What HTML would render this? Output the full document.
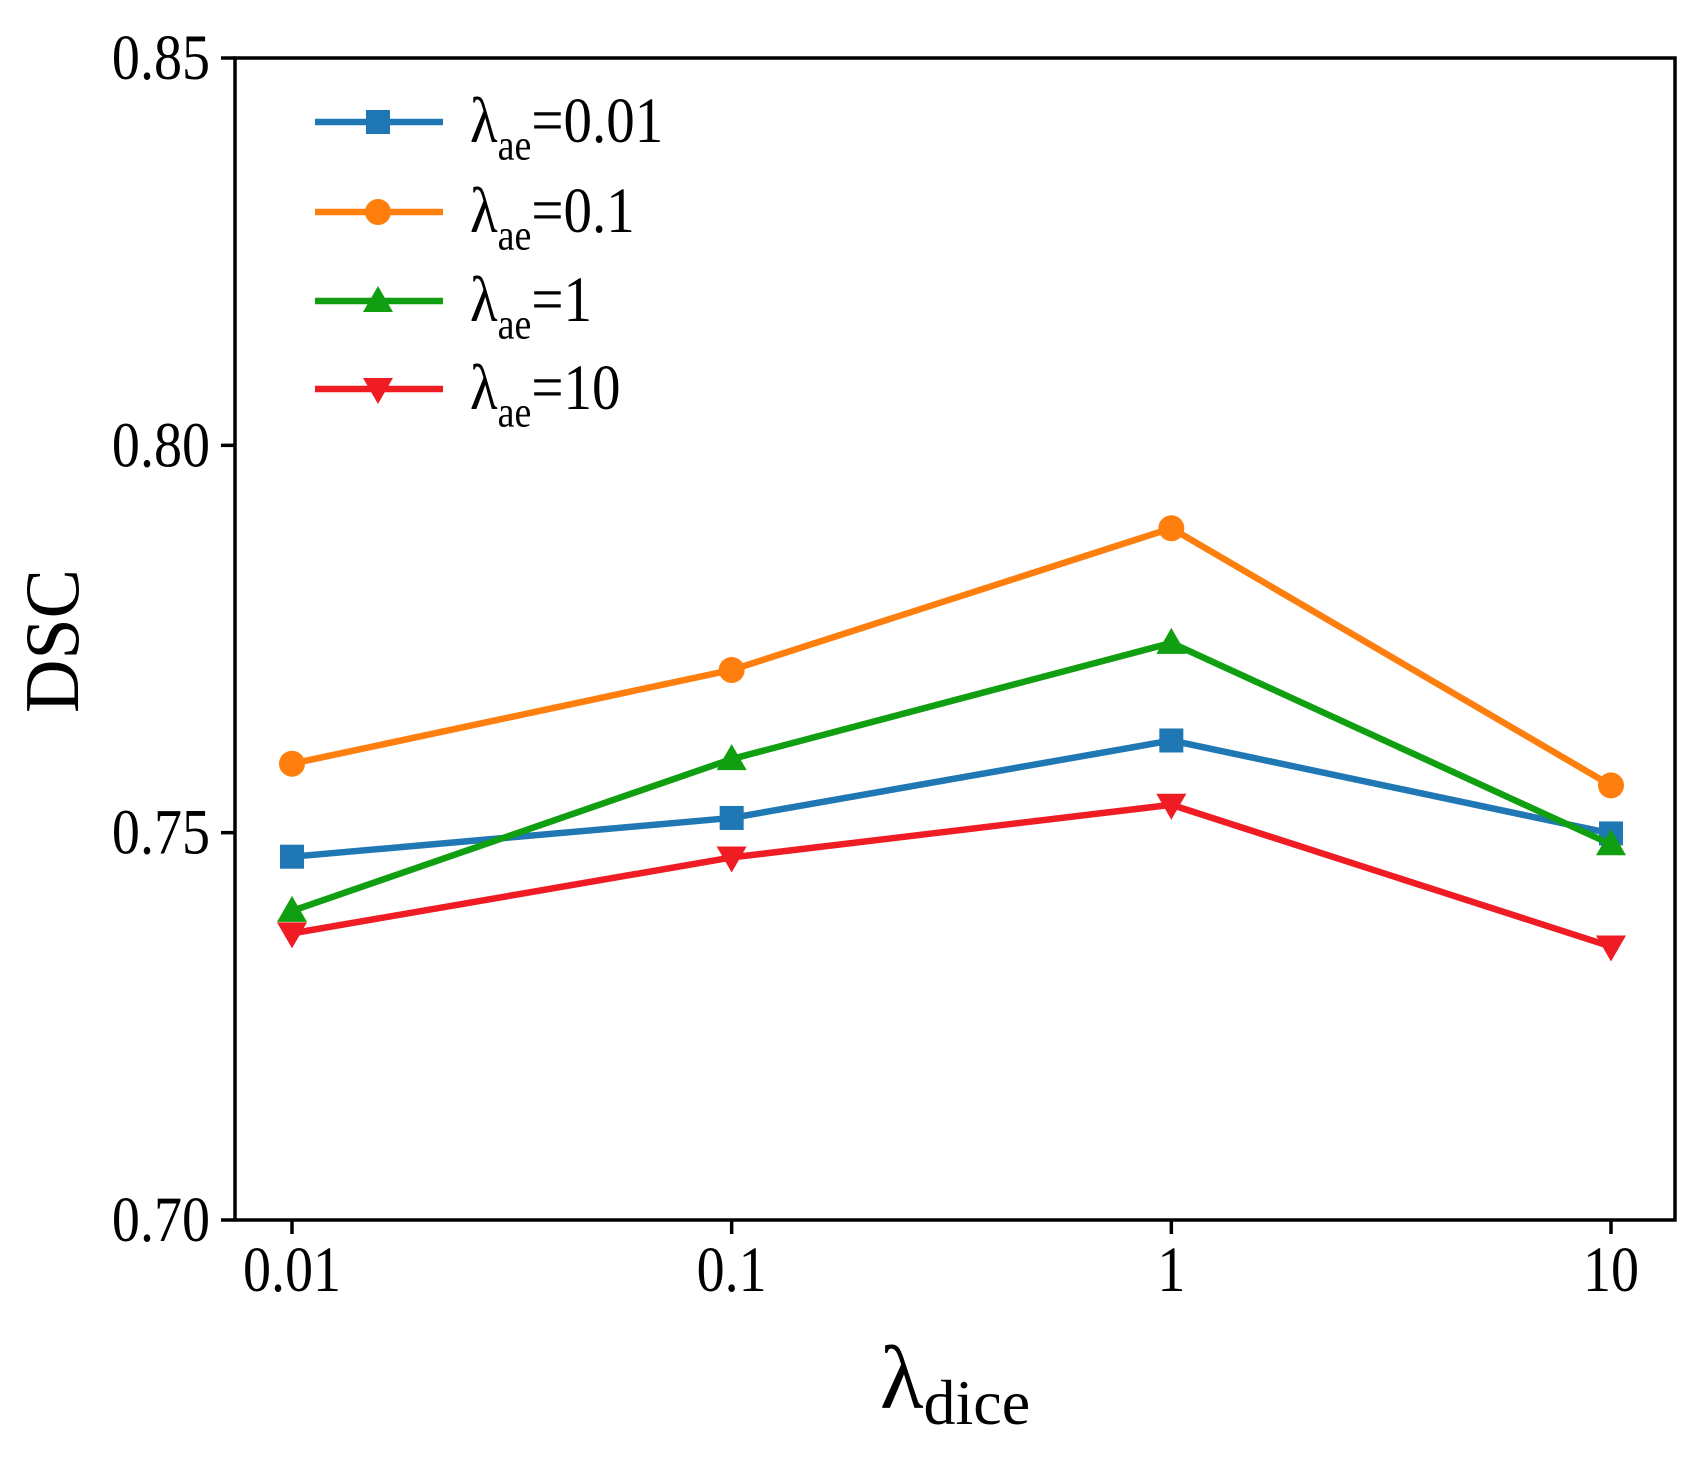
<!DOCTYPE html>
<html><head><meta charset="utf-8"><style>
html,body{margin:0;padding:0;background:#fff;}
svg{display:block;font-family:"Liberation Serif","DejaVu Serif",serif;}
</style></head><body>
<svg id="chart" width="1706" height="1460" viewBox="0 0 1706 1460" xmlns="http://www.w3.org/2000/svg">
<rect width="1706" height="1460" fill="#fff"/>
<g id="plot"></g>
</svg>
<script>
const categories = ["0.01","0.1","1","10"];
const yTicks = [0.70, 0.75, 0.80, 0.85];
const yTickLabels = ["0.70","0.75","0.80","0.85"];
const seriesNames = ["0.01","0.1","1","10"];
const seriesColors = ["#1f77b4","#ff7f0e","#109f10","#f01c24"];
const seriesMarkers = ["square","circle","triangle-up","triangle-down"];
const blueValues = [0.7469, 0.7519, 0.7619, 0.7499];
const orangeValues = [0.7589, 0.7710, 0.7893, 0.7561];
const greenValues = [0.7399, 0.7595, 0.7745, 0.7485];
const redValues = [0.7370, 0.7468, 0.7536, 0.7353];
const allSeries = [blueValues, orangeValues, greenValues, redValues];

const NS = "http://www.w3.org/2000/svg";
const L = 235, R = 1675, T = 58, B = 1220;
const yMin = 0.70, yMax = 0.85;
const x0 = 292, x1 = 1611;
function xScale(i){ return x0 + i * (x1-x0)/(categories.length-1); }
function yScale(v){ return B - (v - yMin) / (yMax - yMin) * (B - T); }
const g = document.getElementById('plot');
function mk(tag, attrs, parent){
  const e = document.createElementNS(NS, tag);
  for (const k in attrs) e.setAttribute(k, attrs[k]);
  (parent||g).appendChild(e); return e;
}
function marker(type, x, y, color, parent){
  const s = 12;
  let e;
  if (type === "square") e = mk('rect', {x:x-s, y:y-s, width:2*s, height:2*s, fill:color}, parent);
  else if (type === "circle") e = mk('circle', {cx:x, cy:y, r:s+1, fill:color}, parent);
  else if (type === "triangle-up") e = mk('polygon', {points:`${x},${y-s-3} ${x-s-3},${y+s-1} ${x+s+3},${y+s-1}`, fill:color}, parent);
  else e = mk('polygon', {points:`${x},${y+s+3} ${x-s-3},${y-s+1} ${x+s+3},${y-s+1}`, fill:color}, parent);
  return e;
}
allSeries.forEach((vals, si) => {
  const sg = mk('g', {});
  
  
  const pts = vals.map((v,i)=>`${xScale(i)},${yScale(v)}`).join(' ');
  const line = mk('polyline', {points:pts, fill:'none', stroke:seriesColors[si], 'stroke-width':6.5, 'stroke-linejoin':'round'}, sg);
  
  
  vals.forEach((v,i)=>{
    const m = marker(seriesMarkers[si], xScale(i), yScale(v), seriesColors[si], sg);
    
    
  });
});
const frame = mk('rect', {x:L, y:T, width:R-L, height:B-T, fill:'none', stroke:'#000', 'stroke-width':3.5});


yTicks.forEach((v,i)=>{
  const y = yScale(v);
  mk('line', {x1:L-14, x2:L, y1:y, y2:y, stroke:'#000', 'stroke-width':3.5});
  const t = mk('text', {x:0, y:0, transform:`translate(${L-25},${y+21}) scale(0.95,1.1)`, 'text-anchor':'end', 'font-size':59, fill:'#000'});
  t.textContent = yTickLabels[i];
  
  
});
categories.forEach((c,i)=>{
  const x = xScale(i);
  mk('line', {x1:x, x2:x, y1:B, y2:B+14, stroke:'#000', 'stroke-width':3.5});
  const t = mk('text', {x:0, y:0, transform:`translate(${x},${B+71}) scale(0.95,1.1)`, 'text-anchor':'middle', 'font-size':59, fill:'#000'});
  t.textContent = c;
  
  
});
const yt = mk('text', {x:0, y:0, transform:'translate(78,641) rotate(-90) scale(1,1.05)', 'text-anchor':'middle', 'font-size':74, fill:'#000'});
yt.textContent = 'DSC';


const xt = mk('text', {x:955, y:1408, 'text-anchor':'middle', 'font-size':90, fill:'#000'});
xt.innerHTML = 'λ<tspan dy="16" font-size="64">dice</tspan>';


const lg = mk('g', {});


const legY = [122, 212, 301, 389];
seriesNames.forEach((n,i)=>{
  const eg = mk('g', {}, lg);
  
  
  mk('line', {x1:315, x2:443, y1:legY[i], y2:legY[i], stroke:seriesColors[i], 'stroke-width':6.5}, eg);
  marker(seriesMarkers[i], 378, legY[i], seriesColors[i], eg);
  const t = mk('text', {x:0, y:0, transform:`translate(470,${legY[i]+20}) scale(0.95,1.08)`, 'font-size':60, fill:'#000'}, eg);
  t.innerHTML = 'λ<tspan dy="16" font-size="40">ae</tspan><tspan dy="-16">=' + n + '</tspan>';
});
</script>
</body></html>
